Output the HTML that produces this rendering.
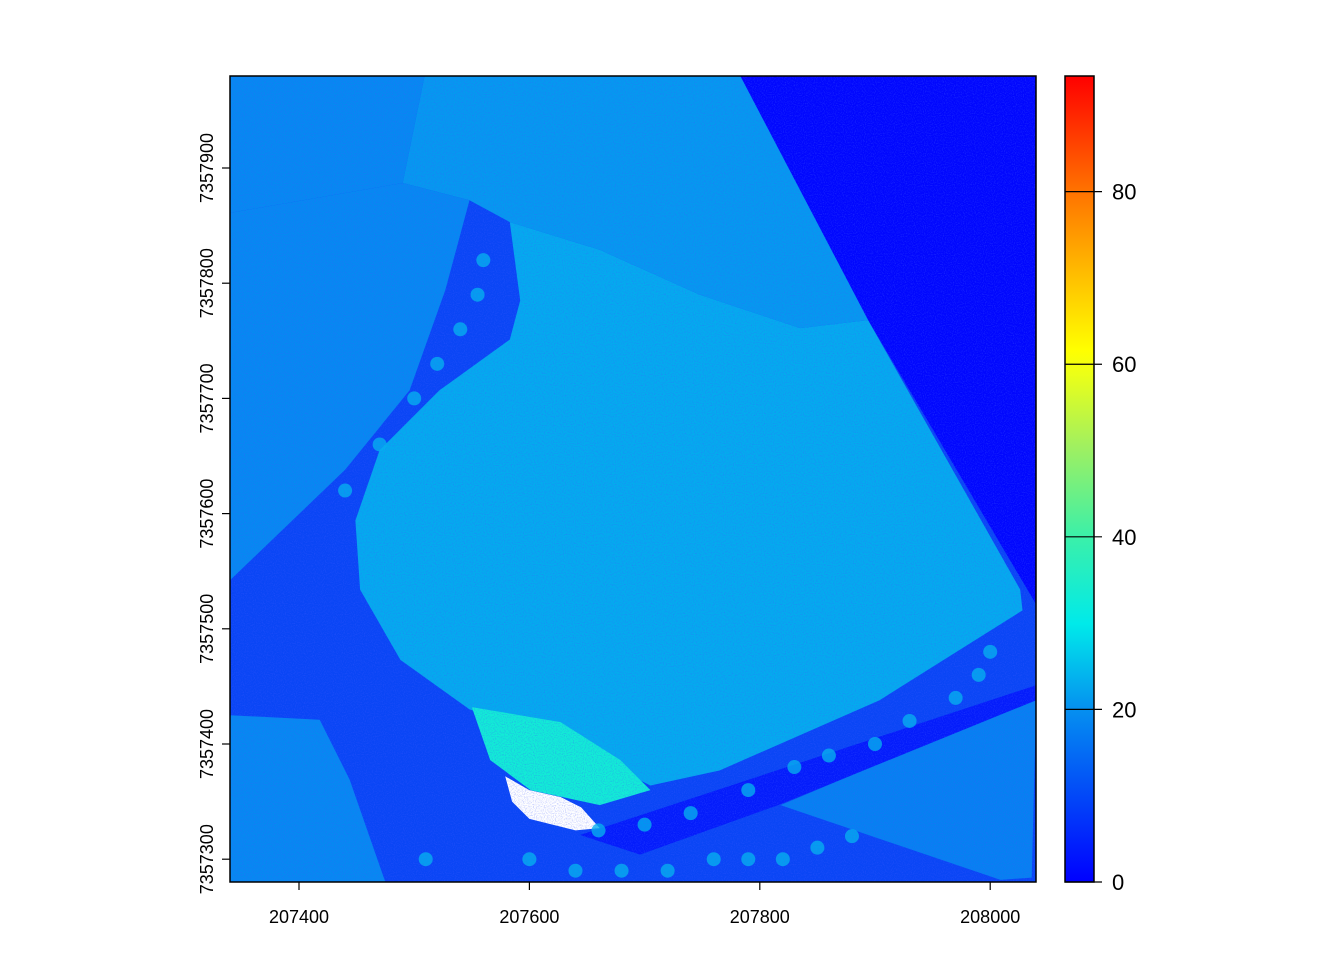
<!DOCTYPE html>
<html><head><meta charset="utf-8"><style>
html,body{margin:0;padding:0;background:#fff;}
svg{display:block;font-family:"Liberation Sans",sans-serif;}
</style></head><body>
<svg id="chart" width="1344" height="960" viewBox="0 0 1344 960" xmlns="http://www.w3.org/2000/svg">
<defs>
<linearGradient id="ramp" x1="0" y1="1" x2="0" y2="0">
<stop offset="0" stop-color="#0000ff"/>
<stop offset="0.214" stop-color="#0590f0"/>
<stop offset="0.32" stop-color="#00eaea"/>
<stop offset="0.43" stop-color="#3cf0a8"/>
<stop offset="0.54" stop-color="#a0f060"/>
<stop offset="0.63" stop-color="#ecff18"/>
<stop offset="0.66" stop-color="#ffff00"/>
<stop offset="0.75" stop-color="#ffc000"/>
<stop offset="0.86" stop-color="#ff7000"/>
<stop offset="1" stop-color="#ff0000"/>
</linearGradient>
<filter id="noise" x="0" y="0" width="100%" height="100%">
<feTurbulence type="fractalNoise" baseFrequency="0.9" numOctaves="1" seed="3"/>
<feColorMatrix values="0 0 0 0 0.05  0 0 0 0 0.1  0 0 0 0 1  0 0 0 2 -0.9"/>
</filter>
<clipPath id="plotclip"><rect x="230" y="76" width="806" height="806"/></clipPath>
</defs>
<g id="map" clip-path="url(#plotclip)"></g>
<rect x="230" y="76" width="806" height="806" fill="none" stroke="#000" stroke-width="1.5"/>
<g id="axes"></g>
<g id="legend"></g>
</svg>
<script>
const xTicks = [207400, 207600, 207800, 208000];
const yTicks = [7357300, 7357400, 7357500, 7357600, 7357700, 7357800, 7357900];
const legendTicks = [0, 20, 40, 60, 80];
const legendMax = 93.4;
// regions in map coordinates (offsets: E-207000, N-7357000) with height class
const regionNames = ['ground','deep-zone','upper-left-field','top-field','left-field','central-field','green-patch','lower-left-field','lower-right-field','road-strip','bare-patch'];
const regionHeights = [10, 1, 19, 21, 19, 23, 33, 19, 18, 4, -1];
const regionShapes = [
 [[340,980],[1040,980],[1040,280],[340,280]],
 [[783,980],[1040,980],[1040,521],[894,768]],
 [[340,980],[509,980],[490,887],[340,861]],
 [[509,980],[783,980],[894,768],[835,761],[748,790],[661,829],[583,853],[548,872],[490,887]],
 [[340,861],[490,887],[548,872],[527,794],[496,707],[440,638],[340,542]],
 [[583,853],[592,785],[583,751],[522,707],[470,655],[449,594],[453,534],[488,473],[548,430],[627,403],[705,364],[765,377],[904,438],[1028,516],[1026,534],[894,768],[835,761],[748,790],[661,829]],
 [[550,432],[627,419],[679,386],[705,360],[661,347],[601,360],[566,386]],
 [[340,425],[418,421],[444,369],[475,280],[340,280]],
 [[818,347],[1040,440],[1036,284],[1009,282]],
 [[644,321],[1040,451],[1040,438],[816,347],[696,304]],
 [[579,372],[600,360],[627,354],[645,345],[661,327],[640,325],[600,335],[585,350]]
];
const treeE = [560,555,540,520,500,470,440,660,700,740,790,830,860,900,930,970,990,1000,600,640,680,720,760,790,820,850,880,510];
const treeN = [820,790,760,730,700,660,620,325,330,340,360,380,390,400,420,440,460,480,300,290,290,290,300,300,300,310,320,300];

const X = e => 299 + (e - 207400) * 1.152;
const Y = n => 168 + (7357900 - n) * 1.152;
const XO = e => X(207000 + e), YO = n => Y(7357000 + n);
const L = v => 882 - v * (806 / legendMax);
function color(v){
  if (v < 0) return '#ffffff';
  const stops=[[0,[0,0,255]],[10,[10,70,245]],[20,[5,144,240]],[30,[0,234,234]],[40,[60,240,168]],[50,[160,240,96]],[60,[255,255,0]],[70,[255,192,0]],[80,[255,112,0]],[93.4,[255,0,0]]];
  for(let i=1;i<stops.length;i++){ if(v<=stops[i][0]){const a=stops[i-1],b=stops[i],t=(v-a[0])/(b[0]-a[0]);
    return 'rgb('+a[1].map((c,k)=>Math.round(c+(b[1][k]-c)*t)).join(',')+')';}}
  return 'rgb(255,0,0)';
}
const NS='http://www.w3.org/2000/svg';
const map=document.getElementById('map');
regionShapes.forEach((pts,i)=>{
  const p=document.createElementNS(NS,'polygon');
  p.setAttribute('points',pts.map(q=>XO(q[0]).toFixed(1)+','+YO(q[1]).toFixed(1)).join(' '));
  p.setAttribute('fill',color(regionHeights[i]));
  
  
  map.appendChild(p);
});
treeE.forEach((e,i)=>{
  const c=document.createElementNS(NS,'circle');
  c.setAttribute('cx',XO(e)); c.setAttribute('cy',YO(treeN[i])); c.setAttribute('r',7);
  c.setAttribute('fill',color(24));
  c.setAttribute('opacity',0.8);
  
  
  map.appendChild(c);
});
const nz=document.createElementNS(NS,'rect');
nz.setAttribute('x',230);nz.setAttribute('y',76);nz.setAttribute('width',806);nz.setAttribute('height',806);
nz.setAttribute('filter','url(#noise)');
nz.setAttribute('opacity',0.5);


map.appendChild(nz);

const axes=document.getElementById('axes');
function line(g,x1,y1,x2,y2,name){const l=document.createElementNS(NS,'line');
  l.setAttribute('x1',x1);l.setAttribute('y1',y1);l.setAttribute('x2',x2);l.setAttribute('y2',y2);
  l.setAttribute('stroke','#000');l.setAttribute('stroke-width',1.2);
  
  
  g.appendChild(l);}
function text(g,x,y,s,size,anchor,name,rot){const t=document.createElementNS(NS,'text');
  t.setAttribute('x',x);t.setAttribute('y',y);t.setAttribute('font-size',size);t.setAttribute('text-anchor',anchor);
  if(rot) t.setAttribute('transform','rotate(-90 '+x+' '+y+')');
  t.textContent=s;
  
  
  g.appendChild(t);}
xTicks.forEach(v=>{line(axes,X(v),882,X(v),890,'x-tick');text(axes,X(v),923,String(v),18,'middle','x-tick-label');});
yTicks.forEach(v=>{line(axes,222,Y(v),230,Y(v),'y-tick');text(axes,213,Y(v),String(v),18,'middle','y-tick-label',true);});

const lg=document.getElementById('legend');
const bar=document.createElementNS(NS,'rect');
bar.setAttribute('x',1065);bar.setAttribute('y',76);bar.setAttribute('width',29);bar.setAttribute('height',806);
bar.setAttribute('fill','url(#ramp)');bar.setAttribute('stroke','#000');bar.setAttribute('stroke-width',1.5);


lg.appendChild(bar);
legendTicks.forEach(v=>{line(lg,1065,L(v),1102,L(v),'legend-tick');text(lg,1112,L(v)+8,String(v),22,'start','legend-tick-label');});
</script>
</body></html>
